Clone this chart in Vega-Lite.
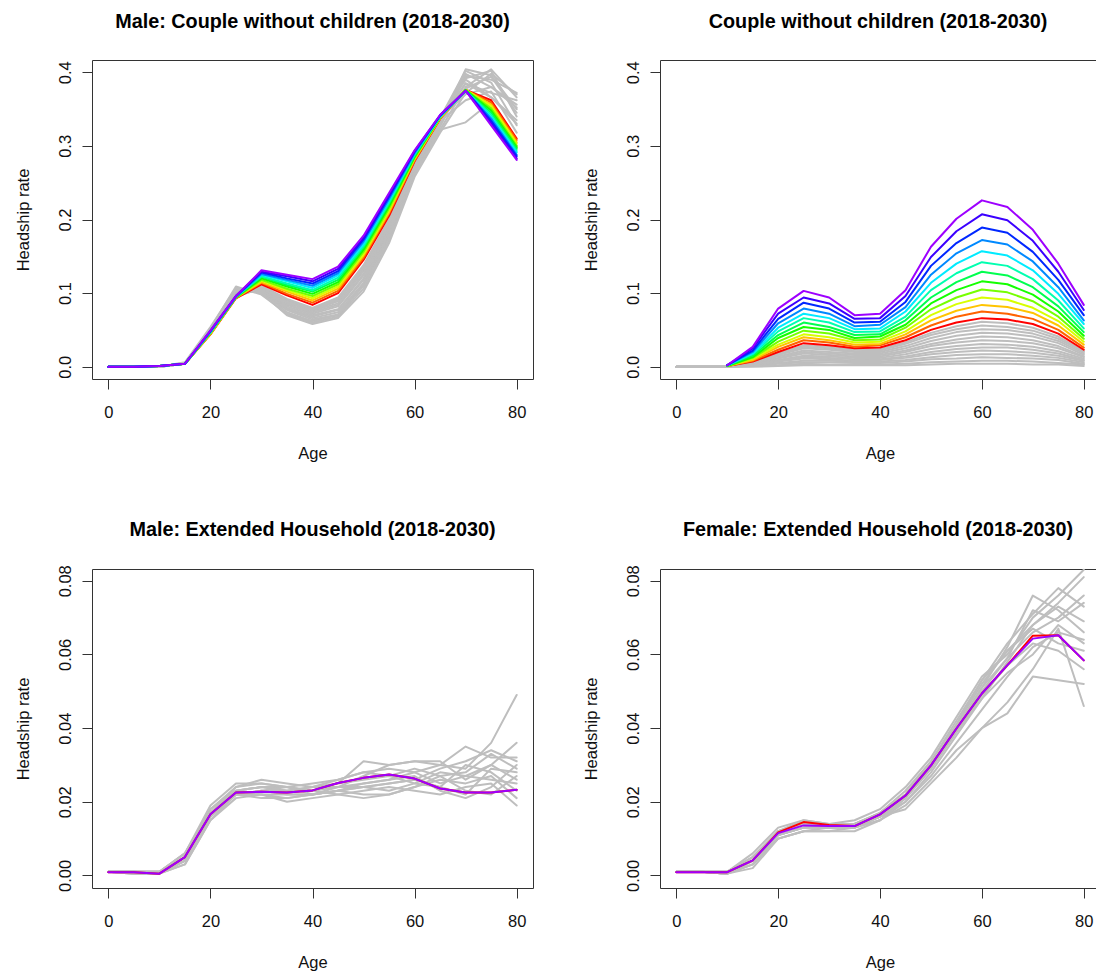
{
  "$schema": "https://vega.github.io/schema/vega-lite/v6.json",
  "background": "white",
  "padding": {"left": 14, "top": 11, "right": 0, "bottom": 0},
  "autosize": {"type": "pad"},
  "config": {
    "font": "Liberation Sans",
    "view": {"stroke": "#333333", "strokeWidth": 1},
    "axis": {
      "domain": false, "grid": false,
      "tickColor": "#333333", "tickSize": 10, "tickWidth": 1,
      "labelFont": "Liberation Sans", "labelFontSize": 16.5, "labelColor": "#111111",
      "labelFlush": false, "labelOverlap": false,
      "titleFont": "Liberation Sans", "titleFontSize": 16.5, "titleFontWeight": "normal", "titleColor": "#111111"
    },
    "axisX": {"labelBaseline": "alphabetic", "labelAlign": "center", "labelPadding": 28, "titleBaseline": "alphabetic", "titleAlign": "center", "titleAngle": 0},
    "axisY": {"labelAngle": 270, "labelAlign": "center", "labelBaseline": "alphabetic", "labelPadding": 12, "titleAngle": 270, "titleAlign": "center", "titleBaseline": "alphabetic"},
    "title": {"font": "Liberation Sans", "fontSize": 19.8, "fontWeight": "bold", "color": "#000000", "anchor": "middle", "frame": "group", "baseline": "alphabetic"},
    "line": {"strokeWidth": 2, "strokeCap": "round", "strokeJoin": "round"}
  },
  "columns": 2,
  "spacing": {"row": 190, "column": 127},
  "bounds": "flush",
  "resolve": {"scale": {"x": "independent", "y": "independent", "color": "independent"}},
  "concat": [
    {
      "width": 441, "height": 319,
      "title": {"text": "Male: Couple without children (2018-2030)", "offset": 28},
      "encoding": {
        "x": {"field": "age", "type": "quantitative", "scale": {"domain": [-3.2, 83.2], "nice": false, "zero": false},
              "axis": {"values": [0, 20, 40, 60, 80], "format": "d", "title": "Age", "titleX": 220.5, "titleY": 79}},
        "y": {"field": "rate", "type": "quantitative", "scale": {"domain": [-0.0167, 0.4167], "nice": false, "zero": false},
              "axis": {"values": [0, 0.1, 0.2, 0.3, 0.4], "format": ".1f", "title": "Headship rate", "titleX": -64, "titleY": 159.5}}
      },
      "layer": [
        {"data": {"name": "male_cwc_hist"}, "mark": {"type": "line", "color": "#BEBEBE"}, "encoding": {"detail": {"field": "s", "type": "nominal"}}},
        {"data": {"name": "male_cwc_fc"}, "mark": {"type": "line"},
         "encoding": {"color": {"field": "s", "type": "ordinal", "legend": null,
           "scale": {"domain": [2018, 2019, 2020, 2021, 2022, 2023, 2024, 2025, 2026, 2027, 2028, 2029, 2030],
                     "range": ["#FF0000", "#FF6200", "#FFC400", "#D8FF00", "#76FF00", "#14FF00", "#00FF4F", "#00FFB0", "#00EBFF", "#0089FF", "#0027FF", "#3B00FF", "#9D00FF"]}}}}
      ]
    },
    {
      "width": 436, "height": 319,
      "title": {"text": "Couple without children (2018-2030)", "offset": 28},
      "encoding": {
        "x": {"field": "age", "type": "quantitative", "scale": {"domain": [-3.2, 82.4], "nice": false, "zero": false},
              "axis": {"values": [0, 20, 40, 60, 80], "format": "d", "title": "Age", "titleX": 220, "titleY": 79}},
        "y": {"field": "rate", "type": "quantitative", "scale": {"domain": [-0.0167, 0.4167], "nice": false, "zero": false},
              "axis": {"values": [0, 0.1, 0.2, 0.3, 0.4], "format": ".1f", "title": "Headship rate", "titleX": -64, "titleY": 159.5}}
      },
      "layer": [
        {"data": {"name": "cwc_hist"}, "mark": {"type": "line", "color": "#BEBEBE"}, "encoding": {"detail": {"field": "s", "type": "nominal"}}},
        {"data": {"name": "cwc_fc"}, "mark": {"type": "line"},
         "encoding": {"color": {"field": "s", "type": "ordinal", "legend": null,
           "scale": {"domain": [2018, 2019, 2020, 2021, 2022, 2023, 2024, 2025, 2026, 2027, 2028, 2029, 2030],
                     "range": ["#FF0000", "#FF6200", "#FFC400", "#D8FF00", "#76FF00", "#14FF00", "#00FF4F", "#00FFB0", "#00EBFF", "#0089FF", "#0027FF", "#3B00FF", "#9D00FF"]}}}}
      ]
    },
    {
      "width": 441, "height": 319,
      "title": {"text": "Male: Extended Household (2018-2030)", "offset": 25},
      "encoding": {
        "x": {"field": "age", "type": "quantitative", "scale": {"domain": [-3.2, 83.2], "nice": false, "zero": false},
              "axis": {"values": [0, 20, 40, 60, 80], "format": "d", "title": "Age", "titleX": 220.5, "titleY": 79}},
        "y": {"field": "rate", "type": "quantitative", "scale": {"domain": [-0.0034, 0.0832], "nice": false, "zero": false},
              "axis": {"values": [0, 0.02, 0.04, 0.06, 0.08], "format": ".2f", "title": "Headship rate", "titleX": -64, "titleY": 159.5}}
      },
      "layer": [
        {"data": {"name": "male_ext_hist"}, "mark": {"type": "line", "color": "#BEBEBE"}, "encoding": {"detail": {"field": "s", "type": "nominal"}}},
        {"data": {"name": "male_ext_fc"}, "mark": {"type": "line"},
         "encoding": {"color": {"field": "s", "type": "ordinal", "legend": null,
           "scale": {"domain": [2018, 2030], "range": ["#FF0000", "#9D00FF"]}}}}
      ]
    },
    {
      "width": 436, "height": 319,
      "title": {"text": "Female: Extended Household (2018-2030)", "offset": 25},
      "encoding": {
        "x": {"field": "age", "type": "quantitative", "scale": {"domain": [-3.2, 82.4], "nice": false, "zero": false},
              "axis": {"values": [0, 20, 40, 60, 80], "format": "d", "title": "Age", "titleX": 220, "titleY": 79}},
        "y": {"field": "rate", "type": "quantitative", "scale": {"domain": [-0.0034, 0.0832], "nice": false, "zero": false},
              "axis": {"values": [0, 0.02, 0.04, 0.06, 0.08], "format": ".2f", "title": "Headship rate", "titleX": -64, "titleY": 159.5}}
      },
      "layer": [
        {"data": {"name": "female_ext_hist"}, "mark": {"type": "line", "color": "#BEBEBE"}, "encoding": {"detail": {"field": "s", "type": "nominal"}}},
        {"data": {"name": "female_ext_fc"}, "mark": {"type": "line"},
         "encoding": {"color": {"field": "s", "type": "ordinal", "legend": null,
           "scale": {"domain": [2018, 2030], "range": ["#FF0000", "#9D00FF"]}}}}
      ]
    }
  ],
  "datasets": {
    "male_cwc_hist": [
      {"s":1,"age":0,"rate":0},{"s":1,"age":5,"rate":0},{"s":1,"age":10,"rate":0},{"s":1,"age":15,"rate":0.006},{"s":1,"age":20,"rate":0.054},{"s":1,"age":25,"rate":0.107},{"s":1,"age":30,"rate":0.100},{"s":1,"age":35,"rate":0.070},{"s":1,"age":40,"rate":0.058},{"s":1,"age":45,"rate":0.066},{"s":1,"age":50,"rate":0.102},{"s":1,"age":55,"rate":0.168},{"s":1,"age":60,"rate":0.258},{"s":1,"age":65,"rate":0.318},{"s":1,"age":70,"rate":0.372},{"s":1,"age":75,"rate":0.398},{"s":1,"age":80,"rate":0.370},
      {"s":2,"age":0,"rate":0},{"s":2,"age":5,"rate":0},{"s":2,"age":10,"rate":0},{"s":2,"age":15,"rate":0.005},{"s":2,"age":20,"rate":0.052},{"s":2,"age":25,"rate":0.109},{"s":2,"age":30,"rate":0.098},{"s":2,"age":35,"rate":0.072},{"s":2,"age":40,"rate":0.060},{"s":2,"age":45,"rate":0.068},{"s":2,"age":50,"rate":0.106},{"s":2,"age":55,"rate":0.172},{"s":2,"age":60,"rate":0.262},{"s":2,"age":65,"rate":0.322},{"s":2,"age":70,"rate":0.380},{"s":2,"age":75,"rate":0.404},{"s":2,"age":80,"rate":0.366},
      {"s":3,"age":0,"rate":0},{"s":3,"age":5,"rate":0},{"s":3,"age":10,"rate":0},{"s":3,"age":15,"rate":0.005},{"s":3,"age":20,"rate":0.050},{"s":3,"age":25,"rate":0.106},{"s":3,"age":30,"rate":0.102},{"s":3,"age":35,"rate":0.074},{"s":3,"age":40,"rate":0.062},{"s":3,"age":45,"rate":0.070},{"s":3,"age":50,"rate":0.110},{"s":3,"age":55,"rate":0.176},{"s":3,"age":60,"rate":0.265},{"s":3,"age":65,"rate":0.326},{"s":3,"age":70,"rate":0.395},{"s":3,"age":75,"rate":0.390},{"s":3,"age":80,"rate":0.372},
      {"s":4,"age":0,"rate":0},{"s":4,"age":5,"rate":0},{"s":4,"age":10,"rate":0},{"s":4,"age":15,"rate":0.005},{"s":4,"age":20,"rate":0.051},{"s":4,"age":25,"rate":0.104},{"s":4,"age":30,"rate":0.101},{"s":4,"age":35,"rate":0.077},{"s":4,"age":40,"rate":0.064},{"s":4,"age":45,"rate":0.071},{"s":4,"age":50,"rate":0.112},{"s":4,"age":55,"rate":0.178},{"s":4,"age":60,"rate":0.268},{"s":4,"age":65,"rate":0.330},{"s":4,"age":70,"rate":0.404},{"s":4,"age":75,"rate":0.396},{"s":4,"age":80,"rate":0.350},
      {"s":5,"age":0,"rate":0},{"s":5,"age":5,"rate":0},{"s":5,"age":10,"rate":0},{"s":5,"age":15,"rate":0.004},{"s":5,"age":20,"rate":0.049},{"s":5,"age":25,"rate":0.103},{"s":5,"age":30,"rate":0.103},{"s":5,"age":35,"rate":0.079},{"s":5,"age":40,"rate":0.066},{"s":5,"age":45,"rate":0.074},{"s":5,"age":50,"rate":0.114},{"s":5,"age":55,"rate":0.182},{"s":5,"age":60,"rate":0.266},{"s":5,"age":65,"rate":0.334},{"s":5,"age":70,"rate":0.398},{"s":5,"age":75,"rate":0.380},{"s":5,"age":80,"rate":0.356},
      {"s":6,"age":0,"rate":0},{"s":6,"age":5,"rate":0},{"s":6,"age":10,"rate":0},{"s":6,"age":15,"rate":0.005},{"s":6,"age":20,"rate":0.050},{"s":6,"age":25,"rate":0.102},{"s":6,"age":30,"rate":0.104},{"s":6,"age":35,"rate":0.080},{"s":6,"age":40,"rate":0.068},{"s":6,"age":45,"rate":0.077},{"s":6,"age":50,"rate":0.118},{"s":6,"age":55,"rate":0.184},{"s":6,"age":60,"rate":0.270},{"s":6,"age":65,"rate":0.336},{"s":6,"age":70,"rate":0.392},{"s":6,"age":75,"rate":0.402},{"s":6,"age":80,"rate":0.340},
      {"s":7,"age":0,"rate":0},{"s":7,"age":5,"rate":0},{"s":7,"age":10,"rate":0},{"s":7,"age":15,"rate":0.004},{"s":7,"age":20,"rate":0.048},{"s":7,"age":25,"rate":0.100},{"s":7,"age":30,"rate":0.105},{"s":7,"age":35,"rate":0.082},{"s":7,"age":40,"rate":0.070},{"s":7,"age":45,"rate":0.078},{"s":7,"age":50,"rate":0.120},{"s":7,"age":55,"rate":0.186},{"s":7,"age":60,"rate":0.272},{"s":7,"age":65,"rate":0.332},{"s":7,"age":70,"rate":0.385},{"s":7,"age":75,"rate":0.372},{"s":7,"age":80,"rate":0.362},
      {"s":8,"age":0,"rate":0},{"s":8,"age":5,"rate":0},{"s":8,"age":10,"rate":0},{"s":8,"age":15,"rate":0.004},{"s":8,"age":20,"rate":0.047},{"s":8,"age":25,"rate":0.099},{"s":8,"age":30,"rate":0.106},{"s":8,"age":35,"rate":0.084},{"s":8,"age":40,"rate":0.072},{"s":8,"age":45,"rate":0.082},{"s":8,"age":50,"rate":0.124},{"s":8,"age":55,"rate":0.188},{"s":8,"age":60,"rate":0.274},{"s":8,"age":65,"rate":0.338},{"s":8,"age":70,"rate":0.402},{"s":8,"age":75,"rate":0.386},{"s":8,"age":80,"rate":0.328},
      {"s":9,"age":0,"rate":0},{"s":9,"age":5,"rate":0},{"s":9,"age":10,"rate":0},{"s":9,"age":15,"rate":0.004},{"s":9,"age":20,"rate":0.046},{"s":9,"age":25,"rate":0.098},{"s":9,"age":30,"rate":0.104},{"s":9,"age":35,"rate":0.085},{"s":9,"age":40,"rate":0.074},{"s":9,"age":45,"rate":0.084},{"s":9,"age":50,"rate":0.126},{"s":9,"age":55,"rate":0.190},{"s":9,"age":60,"rate":0.276},{"s":9,"age":65,"rate":0.336},{"s":9,"age":70,"rate":0.378},{"s":9,"age":75,"rate":0.394},{"s":9,"age":80,"rate":0.345},
      {"s":10,"age":0,"rate":0},{"s":10,"age":5,"rate":0},{"s":10,"age":10,"rate":0},{"s":10,"age":15,"rate":0.004},{"s":10,"age":20,"rate":0.047},{"s":10,"age":25,"rate":0.097},{"s":10,"age":30,"rate":0.107},{"s":10,"age":35,"rate":0.087},{"s":10,"age":40,"rate":0.076},{"s":10,"age":45,"rate":0.086},{"s":10,"age":50,"rate":0.130},{"s":10,"age":55,"rate":0.192},{"s":10,"age":60,"rate":0.278},{"s":10,"age":65,"rate":0.340},{"s":10,"age":70,"rate":0.390},{"s":10,"age":75,"rate":0.366},{"s":10,"age":80,"rate":0.335},
      {"s":11,"age":0,"rate":0},{"s":11,"age":5,"rate":0},{"s":11,"age":10,"rate":0},{"s":11,"age":15,"rate":0.004},{"s":11,"age":20,"rate":0.046},{"s":11,"age":25,"rate":0.096},{"s":11,"age":30,"rate":0.108},{"s":11,"age":35,"rate":0.088},{"s":11,"age":40,"rate":0.077},{"s":11,"age":45,"rate":0.089},{"s":11,"age":50,"rate":0.132},{"s":11,"age":55,"rate":0.194},{"s":11,"age":60,"rate":0.280},{"s":11,"age":65,"rate":0.338},{"s":11,"age":70,"rate":0.370},{"s":11,"age":75,"rate":0.380},{"s":11,"age":80,"rate":0.352},
      {"s":12,"age":0,"rate":0},{"s":12,"age":5,"rate":0},{"s":12,"age":10,"rate":0},{"s":12,"age":15,"rate":0.004},{"s":12,"age":20,"rate":0.045},{"s":12,"age":25,"rate":0.095},{"s":12,"age":30,"rate":0.107},{"s":12,"age":35,"rate":0.090},{"s":12,"age":40,"rate":0.078},{"s":12,"age":45,"rate":0.090},{"s":12,"age":50,"rate":0.134},{"s":12,"age":55,"rate":0.196},{"s":12,"age":60,"rate":0.276},{"s":12,"age":65,"rate":0.334},{"s":12,"age":70,"rate":0.362},{"s":12,"age":75,"rate":0.374},{"s":12,"age":80,"rate":0.318},
      {"s":13,"age":0,"rate":0},{"s":13,"age":5,"rate":0},{"s":13,"age":10,"rate":0},{"s":13,"age":15,"rate":0.004},{"s":13,"age":20,"rate":0.045},{"s":13,"age":25,"rate":0.095},{"s":13,"age":30,"rate":0.109},{"s":13,"age":35,"rate":0.091},{"s":13,"age":40,"rate":0.079},{"s":13,"age":45,"rate":0.092},{"s":13,"age":50,"rate":0.136},{"s":13,"age":55,"rate":0.198},{"s":13,"age":60,"rate":0.262},{"s":13,"age":65,"rate":0.322},{"s":13,"age":70,"rate":0.332},{"s":13,"age":75,"rate":0.360},{"s":13,"age":80,"rate":0.300},
      {"s":14,"age":0,"rate":0},{"s":14,"age":5,"rate":0},{"s":14,"age":10,"rate":0},{"s":14,"age":15,"rate":0.004},{"s":14,"age":20,"rate":0.045},{"s":14,"age":25,"rate":0.094},{"s":14,"age":30,"rate":0.110},{"s":14,"age":35,"rate":0.092},{"s":14,"age":40,"rate":0.080},{"s":14,"age":45,"rate":0.094},{"s":14,"age":50,"rate":0.138},{"s":14,"age":55,"rate":0.200},{"s":14,"age":60,"rate":0.280},{"s":14,"age":65,"rate":0.336},{"s":14,"age":70,"rate":0.385},{"s":14,"age":75,"rate":0.366},{"s":14,"age":80,"rate":0.330}
    ],
    "male_cwc_fc": [
      {"s":2018,"age":0,"rate":0},{"s":2018,"age":5,"rate":0},{"s":2018,"age":10,"rate":0.001},{"s":2018,"age":15,"rate":0.004},{"s":2018,"age":20,"rate":0.044},{"s":2018,"age":25,"rate":0.093},{"s":2018,"age":30,"rate":0.112},{"s":2018,"age":35,"rate":0.097},{"s":2018,"age":40,"rate":0.084},{"s":2018,"age":45,"rate":0.100},{"s":2018,"age":50,"rate":0.145},{"s":2018,"age":55,"rate":0.205},{"s":2018,"age":60,"rate":0.279},{"s":2018,"age":65,"rate":0.337},{"s":2018,"age":70,"rate":0.376},{"s":2018,"age":75,"rate":0.362},{"s":2018,"age":80,"rate":0.310},
      {"s":2019,"age":0,"rate":0},{"s":2019,"age":5,"rate":0},{"s":2019,"age":10,"rate":0.001},{"s":2019,"age":15,"rate":0.004},{"s":2019,"age":20,"rate":0.044},{"s":2019,"age":25,"rate":0.093},{"s":2019,"age":30,"rate":0.114},{"s":2019,"age":35,"rate":0.099},{"s":2019,"age":40,"rate":0.087},{"s":2019,"age":45,"rate":0.103},{"s":2019,"age":50,"rate":0.148},{"s":2019,"age":55,"rate":0.208},{"s":2019,"age":60,"rate":0.280},{"s":2019,"age":65,"rate":0.337},{"s":2019,"age":70,"rate":0.376},{"s":2019,"age":75,"rate":0.359},{"s":2019,"age":80,"rate":0.308},
      {"s":2020,"age":0,"rate":0},{"s":2020,"age":5,"rate":0},{"s":2020,"age":10,"rate":0.001},{"s":2020,"age":15,"rate":0.004},{"s":2020,"age":20,"rate":0.045},{"s":2020,"age":25,"rate":0.094},{"s":2020,"age":30,"rate":0.115},{"s":2020,"age":35,"rate":0.102},{"s":2020,"age":40,"rate":0.090},{"s":2020,"age":45,"rate":0.106},{"s":2020,"age":50,"rate":0.151},{"s":2020,"age":55,"rate":0.210},{"s":2020,"age":60,"rate":0.282},{"s":2020,"age":65,"rate":0.338},{"s":2020,"age":70,"rate":0.376},{"s":2020,"age":75,"rate":0.356},{"s":2020,"age":80,"rate":0.305},
      {"s":2021,"age":0,"rate":0},{"s":2021,"age":5,"rate":0},{"s":2021,"age":10,"rate":0.001},{"s":2021,"age":15,"rate":0.004},{"s":2021,"age":20,"rate":0.045},{"s":2021,"age":25,"rate":0.094},{"s":2021,"age":30,"rate":0.117},{"s":2021,"age":35,"rate":0.104},{"s":2021,"age":40,"rate":0.093},{"s":2021,"age":45,"rate":0.109},{"s":2021,"age":50,"rate":0.153},{"s":2021,"age":55,"rate":0.213},{"s":2021,"age":60,"rate":0.283},{"s":2021,"age":65,"rate":0.338},{"s":2021,"age":70,"rate":0.376},{"s":2021,"age":75,"rate":0.354},{"s":2021,"age":80,"rate":0.303},
      {"s":2022,"age":0,"rate":0},{"s":2022,"age":5,"rate":0},{"s":2022,"age":10,"rate":0.001},{"s":2022,"age":15,"rate":0.004},{"s":2022,"age":20,"rate":0.046},{"s":2022,"age":25,"rate":0.094},{"s":2022,"age":30,"rate":0.118},{"s":2022,"age":35,"rate":0.106},{"s":2022,"age":40,"rate":0.096},{"s":2022,"age":45,"rate":0.112},{"s":2022,"age":50,"rate":0.156},{"s":2022,"age":55,"rate":0.215},{"s":2022,"age":60,"rate":0.284},{"s":2022,"age":65,"rate":0.339},{"s":2022,"age":70,"rate":0.376},{"s":2022,"age":75,"rate":0.351},{"s":2022,"age":80,"rate":0.300},
      {"s":2023,"age":0,"rate":0},{"s":2023,"age":5,"rate":0},{"s":2023,"age":10,"rate":0.001},{"s":2023,"age":15,"rate":0.004},{"s":2023,"age":20,"rate":0.046},{"s":2023,"age":25,"rate":0.094},{"s":2023,"age":30,"rate":0.120},{"s":2023,"age":35,"rate":0.109},{"s":2023,"age":40,"rate":0.099},{"s":2023,"age":45,"rate":0.115},{"s":2023,"age":50,"rate":0.159},{"s":2023,"age":55,"rate":0.218},{"s":2023,"age":60,"rate":0.285},{"s":2023,"age":65,"rate":0.339},{"s":2023,"age":70,"rate":0.376},{"s":2023,"age":75,"rate":0.348},{"s":2023,"age":80,"rate":0.298},
      {"s":2024,"age":0,"rate":0},{"s":2024,"age":5,"rate":0},{"s":2024,"age":10,"rate":0.001},{"s":2024,"age":15,"rate":0.004},{"s":2024,"age":20,"rate":0.047},{"s":2024,"age":25,"rate":0.095},{"s":2024,"age":30,"rate":0.122},{"s":2024,"age":35,"rate":0.111},{"s":2024,"age":40,"rate":0.102},{"s":2024,"age":45,"rate":0.118},{"s":2024,"age":50,"rate":0.162},{"s":2024,"age":55,"rate":0.221},{"s":2024,"age":60,"rate":0.287},{"s":2024,"age":65,"rate":0.340},{"s":2024,"age":70,"rate":0.375},{"s":2024,"age":75,"rate":0.345},{"s":2024,"age":80,"rate":0.296},
      {"s":2025,"age":0,"rate":0},{"s":2025,"age":5,"rate":0},{"s":2025,"age":10,"rate":0.001},{"s":2025,"age":15,"rate":0.004},{"s":2025,"age":20,"rate":0.047},{"s":2025,"age":25,"rate":0.095},{"s":2025,"age":30,"rate":0.123},{"s":2025,"age":35,"rate":0.113},{"s":2025,"age":40,"rate":0.104},{"s":2025,"age":45,"rate":0.121},{"s":2025,"age":50,"rate":0.164},{"s":2025,"age":55,"rate":0.223},{"s":2025,"age":60,"rate":0.288},{"s":2025,"age":65,"rate":0.340},{"s":2025,"age":70,"rate":0.375},{"s":2025,"age":75,"rate":0.342},{"s":2025,"age":80,"rate":0.293},
      {"s":2026,"age":0,"rate":0},{"s":2026,"age":5,"rate":0},{"s":2026,"age":10,"rate":0.001},{"s":2026,"age":15,"rate":0.004},{"s":2026,"age":20,"rate":0.047},{"s":2026,"age":25,"rate":0.095},{"s":2026,"age":30,"rate":0.125},{"s":2026,"age":35,"rate":0.116},{"s":2026,"age":40,"rate":0.107},{"s":2026,"age":45,"rate":0.124},{"s":2026,"age":50,"rate":0.167},{"s":2026,"age":55,"rate":0.226},{"s":2026,"age":60,"rate":0.289},{"s":2026,"age":65,"rate":0.340},{"s":2026,"age":70,"rate":0.375},{"s":2026,"age":75,"rate":0.339},{"s":2026,"age":80,"rate":0.291},
      {"s":2027,"age":0,"rate":0},{"s":2027,"age":5,"rate":0},{"s":2027,"age":10,"rate":0.001},{"s":2027,"age":15,"rate":0.004},{"s":2027,"age":20,"rate":0.048},{"s":2027,"age":25,"rate":0.095},{"s":2027,"age":30,"rate":0.126},{"s":2027,"age":35,"rate":0.118},{"s":2027,"age":40,"rate":0.110},{"s":2027,"age":45,"rate":0.127},{"s":2027,"age":50,"rate":0.170},{"s":2027,"age":55,"rate":0.228},{"s":2027,"age":60,"rate":0.290},{"s":2027,"age":65,"rate":0.341},{"s":2027,"age":70,"rate":0.375},{"s":2027,"age":75,"rate":0.337},{"s":2027,"age":80,"rate":0.288},
      {"s":2028,"age":0,"rate":0},{"s":2028,"age":5,"rate":0},{"s":2028,"age":10,"rate":0.001},{"s":2028,"age":15,"rate":0.004},{"s":2028,"age":20,"rate":0.048},{"s":2028,"age":25,"rate":0.096},{"s":2028,"age":30,"rate":0.128},{"s":2028,"age":35,"rate":0.120},{"s":2028,"age":40,"rate":0.113},{"s":2028,"age":45,"rate":0.130},{"s":2028,"age":50,"rate":0.173},{"s":2028,"age":55,"rate":0.231},{"s":2028,"age":60,"rate":0.292},{"s":2028,"age":65,"rate":0.341},{"s":2028,"age":70,"rate":0.375},{"s":2028,"age":75,"rate":0.334},{"s":2028,"age":80,"rate":0.286},
      {"s":2029,"age":0,"rate":0},{"s":2029,"age":5,"rate":0},{"s":2029,"age":10,"rate":0.001},{"s":2029,"age":15,"rate":0.004},{"s":2029,"age":20,"rate":0.049},{"s":2029,"age":25,"rate":0.096},{"s":2029,"age":30,"rate":0.129},{"s":2029,"age":35,"rate":0.123},{"s":2029,"age":40,"rate":0.116},{"s":2029,"age":45,"rate":0.133},{"s":2029,"age":50,"rate":0.175},{"s":2029,"age":55,"rate":0.233},{"s":2029,"age":60,"rate":0.293},{"s":2029,"age":65,"rate":0.342},{"s":2029,"age":70,"rate":0.375},{"s":2029,"age":75,"rate":0.331},{"s":2029,"age":80,"rate":0.283},
      {"s":2030,"age":0,"rate":0},{"s":2030,"age":5,"rate":0},{"s":2030,"age":10,"rate":0.001},{"s":2030,"age":15,"rate":0.004},{"s":2030,"age":20,"rate":0.049},{"s":2030,"age":25,"rate":0.096},{"s":2030,"age":30,"rate":0.131},{"s":2030,"age":35,"rate":0.125},{"s":2030,"age":40,"rate":0.119},{"s":2030,"age":45,"rate":0.136},{"s":2030,"age":50,"rate":0.178},{"s":2030,"age":55,"rate":0.236},{"s":2030,"age":60,"rate":0.294},{"s":2030,"age":65,"rate":0.342},{"s":2030,"age":70,"rate":0.375},{"s":2030,"age":75,"rate":0.328},{"s":2030,"age":80,"rate":0.281}
    ],
    "cwc_hist": [
      {"s":1,"age":0,"rate":0},{"s":1,"age":5,"rate":0},{"s":1,"age":10,"rate":0.001},{"s":1,"age":15,"rate":0.006},{"s":1,"age":20,"rate":0.018},{"s":1,"age":25,"rate":0.029},{"s":1,"age":30,"rate":0.027},{"s":1,"age":35,"rate":0.023},{"s":1,"age":40,"rate":0.024},{"s":1,"age":45,"rate":0.033},{"s":1,"age":50,"rate":0.046},{"s":1,"age":55,"rate":0.055},{"s":1,"age":60,"rate":0.061},{"s":1,"age":65,"rate":0.059},{"s":1,"age":70,"rate":0.053},{"s":1,"age":75,"rate":0.041},{"s":1,"age":80,"rate":0.021},
      {"s":2,"age":0,"rate":0},{"s":2,"age":5,"rate":0},{"s":2,"age":10,"rate":0.001},{"s":2,"age":15,"rate":0.006},{"s":2,"age":20,"rate":0.017},{"s":2,"age":25,"rate":0.027},{"s":2,"age":30,"rate":0.025},{"s":2,"age":35,"rate":0.021},{"s":2,"age":40,"rate":0.022},{"s":2,"age":45,"rate":0.031},{"s":2,"age":50,"rate":0.043},{"s":2,"age":55,"rate":0.051},{"s":2,"age":60,"rate":0.056},{"s":2,"age":65,"rate":0.054},{"s":2,"age":70,"rate":0.049},{"s":2,"age":75,"rate":0.038},{"s":2,"age":80,"rate":0.020},
      {"s":3,"age":0,"rate":0},{"s":3,"age":5,"rate":0},{"s":3,"age":10,"rate":0},{"s":3,"age":15,"rate":0.005},{"s":3,"age":20,"rate":0.016},{"s":3,"age":25,"rate":0.025},{"s":3,"age":30,"rate":0.023},{"s":3,"age":35,"rate":0.020},{"s":3,"age":40,"rate":0.020},{"s":3,"age":45,"rate":0.028},{"s":3,"age":50,"rate":0.039},{"s":3,"age":55,"rate":0.047},{"s":3,"age":60,"rate":0.051},{"s":3,"age":65,"rate":0.050},{"s":3,"age":70,"rate":0.045},{"s":3,"age":75,"rate":0.035},{"s":3,"age":80,"rate":0.018},
      {"s":4,"age":0,"rate":0},{"s":4,"age":5,"rate":0},{"s":4,"age":10,"rate":0},{"s":4,"age":15,"rate":0.005},{"s":4,"age":20,"rate":0.014},{"s":4,"age":25,"rate":0.022},{"s":4,"age":30,"rate":0.020},{"s":4,"age":35,"rate":0.018},{"s":4,"age":40,"rate":0.018},{"s":4,"age":45,"rate":0.025},{"s":4,"age":50,"rate":0.035},{"s":4,"age":55,"rate":0.042},{"s":4,"age":60,"rate":0.046},{"s":4,"age":65,"rate":0.045},{"s":4,"age":70,"rate":0.041},{"s":4,"age":75,"rate":0.032},{"s":4,"age":80,"rate":0.016},
      {"s":5,"age":0,"rate":0},{"s":5,"age":5,"rate":0},{"s":5,"age":10,"rate":0},{"s":5,"age":15,"rate":0.004},{"s":5,"age":20,"rate":0.012},{"s":5,"age":25,"rate":0.020},{"s":5,"age":30,"rate":0.018},{"s":5,"age":35,"rate":0.016},{"s":5,"age":40,"rate":0.016},{"s":5,"age":45,"rate":0.022},{"s":5,"age":50,"rate":0.031},{"s":5,"age":55,"rate":0.037},{"s":5,"age":60,"rate":0.041},{"s":5,"age":65,"rate":0.040},{"s":5,"age":70,"rate":0.036},{"s":5,"age":75,"rate":0.028},{"s":5,"age":80,"rate":0.014},
      {"s":6,"age":0,"rate":0},{"s":6,"age":5,"rate":0},{"s":6,"age":10,"rate":0},{"s":6,"age":15,"rate":0.004},{"s":6,"age":20,"rate":0.011},{"s":6,"age":25,"rate":0.018},{"s":6,"age":30,"rate":0.016},{"s":6,"age":35,"rate":0.014},{"s":6,"age":40,"rate":0.014},{"s":6,"age":45,"rate":0.020},{"s":6,"age":50,"rate":0.028},{"s":6,"age":55,"rate":0.033},{"s":6,"age":60,"rate":0.036},{"s":6,"age":65,"rate":0.035},{"s":6,"age":70,"rate":0.032},{"s":6,"age":75,"rate":0.025},{"s":6,"age":80,"rate":0.013},
      {"s":7,"age":0,"rate":0},{"s":7,"age":5,"rate":0},{"s":7,"age":10,"rate":0},{"s":7,"age":15,"rate":0.003},{"s":7,"age":20,"rate":0.009},{"s":7,"age":25,"rate":0.015},{"s":7,"age":30,"rate":0.014},{"s":7,"age":35,"rate":0.012},{"s":7,"age":40,"rate":0.012},{"s":7,"age":45,"rate":0.017},{"s":7,"age":50,"rate":0.024},{"s":7,"age":55,"rate":0.028},{"s":7,"age":60,"rate":0.031},{"s":7,"age":65,"rate":0.030},{"s":7,"age":70,"rate":0.027},{"s":7,"age":75,"rate":0.021},{"s":7,"age":80,"rate":0.011},
      {"s":8,"age":0,"rate":0},{"s":8,"age":5,"rate":0},{"s":8,"age":10,"rate":0},{"s":8,"age":15,"rate":0.003},{"s":8,"age":20,"rate":0.008},{"s":8,"age":25,"rate":0.013},{"s":8,"age":30,"rate":0.012},{"s":8,"age":35,"rate":0.010},{"s":8,"age":40,"rate":0.010},{"s":8,"age":45,"rate":0.014},{"s":8,"age":50,"rate":0.020},{"s":8,"age":55,"rate":0.024},{"s":8,"age":60,"rate":0.026},{"s":8,"age":65,"rate":0.026},{"s":8,"age":70,"rate":0.023},{"s":8,"age":75,"rate":0.018},{"s":8,"age":80,"rate":0.009},
      {"s":9,"age":0,"rate":0},{"s":9,"age":5,"rate":0},{"s":9,"age":10,"rate":0},{"s":9,"age":15,"rate":0.002},{"s":9,"age":20,"rate":0.007},{"s":9,"age":25,"rate":0.011},{"s":9,"age":30,"rate":0.010},{"s":9,"age":35,"rate":0.008},{"s":9,"age":40,"rate":0.009},{"s":9,"age":45,"rate":0.012},{"s":9,"age":50,"rate":0.017},{"s":9,"age":55,"rate":0.020},{"s":9,"age":60,"rate":0.022},{"s":9,"age":65,"rate":0.021},{"s":9,"age":70,"rate":0.019},{"s":9,"age":75,"rate":0.015},{"s":9,"age":80,"rate":0.008},
      {"s":10,"age":0,"rate":0},{"s":10,"age":5,"rate":0},{"s":10,"age":10,"rate":0},{"s":10,"age":15,"rate":0.002},{"s":10,"age":20,"rate":0.005},{"s":10,"age":25,"rate":0.008},{"s":10,"age":30,"rate":0.008},{"s":10,"age":35,"rate":0.007},{"s":10,"age":40,"rate":0.007},{"s":10,"age":45,"rate":0.009},{"s":10,"age":50,"rate":0.013},{"s":10,"age":55,"rate":0.016},{"s":10,"age":60,"rate":0.017},{"s":10,"age":65,"rate":0.017},{"s":10,"age":70,"rate":0.015},{"s":10,"age":75,"rate":0.012},{"s":10,"age":80,"rate":0.006},
      {"s":11,"age":0,"rate":0},{"s":11,"age":5,"rate":0},{"s":11,"age":10,"rate":0},{"s":11,"age":15,"rate":0.001},{"s":11,"age":20,"rate":0.004},{"s":11,"age":25,"rate":0.006},{"s":11,"age":30,"rate":0.006},{"s":11,"age":35,"rate":0.005},{"s":11,"age":40,"rate":0.005},{"s":11,"age":45,"rate":0.007},{"s":11,"age":50,"rate":0.010},{"s":11,"age":55,"rate":0.011},{"s":11,"age":60,"rate":0.013},{"s":11,"age":65,"rate":0.012},{"s":11,"age":70,"rate":0.011},{"s":11,"age":75,"rate":0.009},{"s":11,"age":80,"rate":0.004},
      {"s":12,"age":0,"rate":0},{"s":12,"age":5,"rate":0},{"s":12,"age":10,"rate":0},{"s":12,"age":15,"rate":0.001},{"s":12,"age":20,"rate":0.002},{"s":12,"age":25,"rate":0.004},{"s":12,"age":30,"rate":0.003},{"s":12,"age":35,"rate":0.003},{"s":12,"age":40,"rate":0.003},{"s":12,"age":45,"rate":0.004},{"s":12,"age":50,"rate":0.006},{"s":12,"age":55,"rate":0.007},{"s":12,"age":60,"rate":0.008},{"s":12,"age":65,"rate":0.008},{"s":12,"age":70,"rate":0.007},{"s":12,"age":75,"rate":0.005},{"s":12,"age":80,"rate":0.003},
      {"s":13,"age":0,"rate":0},{"s":13,"age":5,"rate":0},{"s":13,"age":10,"rate":0},{"s":13,"age":15,"rate":0},{"s":13,"age":20,"rate":0.001},{"s":13,"age":25,"rate":0.002},{"s":13,"age":30,"rate":0.002},{"s":13,"age":35,"rate":0.002},{"s":13,"age":40,"rate":0.002},{"s":13,"age":45,"rate":0.002},{"s":13,"age":50,"rate":0.003},{"s":13,"age":55,"rate":0.004},{"s":13,"age":60,"rate":0.004},{"s":13,"age":65,"rate":0.004},{"s":13,"age":70,"rate":0.003},{"s":13,"age":75,"rate":0.003},{"s":13,"age":80,"rate":0.001}
    ],
    "cwc_fc": [
      {"s":2018,"age":10,"rate":0.001},{"s":2018,"age":15,"rate":0.007},{"s":2018,"age":20,"rate":0.020},{"s":2018,"age":25,"rate":0.032},{"s":2018,"age":30,"rate":0.029},{"s":2018,"age":35,"rate":0.025},{"s":2018,"age":40,"rate":0.026},{"s":2018,"age":45,"rate":0.036},{"s":2018,"age":50,"rate":0.050},{"s":2018,"age":55,"rate":0.060},{"s":2018,"age":60,"rate":0.066},{"s":2018,"age":65,"rate":0.064},{"s":2018,"age":70,"rate":0.058},{"s":2018,"age":75,"rate":0.045},{"s":2018,"age":80,"rate":0.023},
      {"s":2019,"age":10,"rate":0.001},{"s":2019,"age":15,"rate":0.008},{"s":2019,"age":20,"rate":0.023},{"s":2019,"age":25,"rate":0.036},{"s":2019,"age":30,"rate":0.033},{"s":2019,"age":35,"rate":0.027},{"s":2019,"age":40,"rate":0.029},{"s":2019,"age":45,"rate":0.040},{"s":2019,"age":50,"rate":0.056},{"s":2019,"age":55,"rate":0.068},{"s":2019,"age":60,"rate":0.075},{"s":2019,"age":65,"rate":0.072},{"s":2019,"age":70,"rate":0.065},{"s":2019,"age":75,"rate":0.050},{"s":2019,"age":80,"rate":0.026},
      {"s":2020,"age":10,"rate":0.001},{"s":2020,"age":15,"rate":0.009},{"s":2020,"age":20,"rate":0.027},{"s":2020,"age":25,"rate":0.040},{"s":2020,"age":30,"rate":0.036},{"s":2020,"age":35,"rate":0.030},{"s":2020,"age":40,"rate":0.031},{"s":2020,"age":45,"rate":0.044},{"s":2020,"age":50,"rate":0.063},{"s":2020,"age":55,"rate":0.076},{"s":2020,"age":60,"rate":0.084},{"s":2020,"age":65,"rate":0.081},{"s":2020,"age":70,"rate":0.073},{"s":2020,"age":75,"rate":0.056},{"s":2020,"age":80,"rate":0.030},
      {"s":2021,"age":10,"rate":0.001},{"s":2021,"age":15,"rate":0.011},{"s":2021,"age":20,"rate":0.030},{"s":2021,"age":25,"rate":0.044},{"s":2021,"age":30,"rate":0.040},{"s":2021,"age":35,"rate":0.033},{"s":2021,"age":40,"rate":0.034},{"s":2021,"age":45,"rate":0.048},{"s":2021,"age":50,"rate":0.070},{"s":2021,"age":55,"rate":0.085},{"s":2021,"age":60,"rate":0.094},{"s":2021,"age":65,"rate":0.091},{"s":2021,"age":70,"rate":0.080},{"s":2021,"age":75,"rate":0.062},{"s":2021,"age":80,"rate":0.034},
      {"s":2022,"age":10,"rate":0.001},{"s":2022,"age":15,"rate":0.012},{"s":2022,"age":20,"rate":0.034},{"s":2022,"age":25,"rate":0.049},{"s":2022,"age":30,"rate":0.045},{"s":2022,"age":35,"rate":0.036},{"s":2022,"age":40,"rate":0.037},{"s":2022,"age":45,"rate":0.053},{"s":2022,"age":50,"rate":0.078},{"s":2022,"age":55,"rate":0.094},{"s":2022,"age":60,"rate":0.105},{"s":2022,"age":65,"rate":0.101},{"s":2022,"age":70,"rate":0.089},{"s":2022,"age":75,"rate":0.068},{"s":2022,"age":80,"rate":0.038},
      {"s":2023,"age":10,"rate":0.001},{"s":2023,"age":15,"rate":0.013},{"s":2023,"age":20,"rate":0.039},{"s":2023,"age":25,"rate":0.054},{"s":2023,"age":30,"rate":0.050},{"s":2023,"age":35,"rate":0.039},{"s":2023,"age":40,"rate":0.041},{"s":2023,"age":45,"rate":0.057},{"s":2023,"age":50,"rate":0.086},{"s":2023,"age":55,"rate":0.104},{"s":2023,"age":60,"rate":0.116},{"s":2023,"age":65,"rate":0.112},{"s":2023,"age":70,"rate":0.098},{"s":2023,"age":75,"rate":0.075},{"s":2023,"age":80,"rate":0.042},
      {"s":2024,"age":10,"rate":0.002},{"s":2024,"age":15,"rate":0.015},{"s":2024,"age":20,"rate":0.043},{"s":2024,"age":25,"rate":0.060},{"s":2024,"age":30,"rate":0.054},{"s":2024,"age":35,"rate":0.043},{"s":2024,"age":40,"rate":0.044},{"s":2024,"age":45,"rate":0.063},{"s":2024,"age":50,"rate":0.094},{"s":2024,"age":55,"rate":0.115},{"s":2024,"age":60,"rate":0.129},{"s":2024,"age":65,"rate":0.124},{"s":2024,"age":70,"rate":0.108},{"s":2024,"age":75,"rate":0.082},{"s":2024,"age":80,"rate":0.047},
      {"s":2025,"age":10,"rate":0.002},{"s":2025,"age":15,"rate":0.017},{"s":2025,"age":20,"rate":0.048},{"s":2025,"age":25,"rate":0.066},{"s":2025,"age":30,"rate":0.060},{"s":2025,"age":35,"rate":0.047},{"s":2025,"age":40,"rate":0.048},{"s":2025,"age":45,"rate":0.068},{"s":2025,"age":50,"rate":0.104},{"s":2025,"age":55,"rate":0.127},{"s":2025,"age":60,"rate":0.142},{"s":2025,"age":65,"rate":0.137},{"s":2025,"age":70,"rate":0.119},{"s":2025,"age":75,"rate":0.090},{"s":2025,"age":80,"rate":0.052},
      {"s":2026,"age":10,"rate":0.002},{"s":2026,"age":15,"rate":0.018},{"s":2026,"age":20,"rate":0.053},{"s":2026,"age":25,"rate":0.072},{"s":2026,"age":30,"rate":0.066},{"s":2026,"age":35,"rate":0.051},{"s":2026,"age":40,"rate":0.052},{"s":2026,"age":45,"rate":0.075},{"s":2026,"age":50,"rate":0.114},{"s":2026,"age":55,"rate":0.140},{"s":2026,"age":60,"rate":0.157},{"s":2026,"age":65,"rate":0.151},{"s":2026,"age":70,"rate":0.131},{"s":2026,"age":75,"rate":0.099},{"s":2026,"age":80,"rate":0.058},
      {"s":2027,"age":10,"rate":0.002},{"s":2027,"age":15,"rate":0.020},{"s":2027,"age":20,"rate":0.059},{"s":2027,"age":25,"rate":0.079},{"s":2027,"age":30,"rate":0.072},{"s":2027,"age":35,"rate":0.055},{"s":2027,"age":40,"rate":0.057},{"s":2027,"age":45,"rate":0.081},{"s":2027,"age":50,"rate":0.125},{"s":2027,"age":55,"rate":0.154},{"s":2027,"age":60,"rate":0.172},{"s":2027,"age":65,"rate":0.166},{"s":2027,"age":70,"rate":0.143},{"s":2027,"age":75,"rate":0.108},{"s":2027,"age":80,"rate":0.063},
      {"s":2028,"age":10,"rate":0.002},{"s":2028,"age":15,"rate":0.022},{"s":2028,"age":20,"rate":0.065},{"s":2028,"age":25,"rate":0.087},{"s":2028,"age":30,"rate":0.079},{"s":2028,"age":35,"rate":0.060},{"s":2028,"age":40,"rate":0.061},{"s":2028,"age":45,"rate":0.088},{"s":2028,"age":50,"rate":0.137},{"s":2028,"age":55,"rate":0.168},{"s":2028,"age":60,"rate":0.189},{"s":2028,"age":65,"rate":0.182},{"s":2028,"age":70,"rate":0.156},{"s":2028,"age":75,"rate":0.118},{"s":2028,"age":80,"rate":0.070},
      {"s":2029,"age":10,"rate":0.002},{"s":2029,"age":15,"rate":0.025},{"s":2029,"age":20,"rate":0.072},{"s":2029,"age":25,"rate":0.094},{"s":2029,"age":30,"rate":0.086},{"s":2029,"age":35,"rate":0.065},{"s":2029,"age":40,"rate":0.066},{"s":2029,"age":45,"rate":0.096},{"s":2029,"age":50,"rate":0.149},{"s":2029,"age":55,"rate":0.184},{"s":2029,"age":60,"rate":0.207},{"s":2029,"age":65,"rate":0.199},{"s":2029,"age":70,"rate":0.171},{"s":2029,"age":75,"rate":0.129},{"s":2029,"age":80,"rate":0.077},
      {"s":2030,"age":10,"rate":0.002},{"s":2030,"age":15,"rate":0.027},{"s":2030,"age":20,"rate":0.079},{"s":2030,"age":25,"rate":0.103},{"s":2030,"age":30,"rate":0.094},{"s":2030,"age":35,"rate":0.070},{"s":2030,"age":40,"rate":0.072},{"s":2030,"age":45,"rate":0.104},{"s":2030,"age":50,"rate":0.163},{"s":2030,"age":55,"rate":0.201},{"s":2030,"age":60,"rate":0.226},{"s":2030,"age":65,"rate":0.217},{"s":2030,"age":70,"rate":0.186},{"s":2030,"age":75,"rate":0.140},{"s":2030,"age":80,"rate":0.084}
    ],
    "male_ext_hist": [
      {"s":1,"age":0,"rate":0.001},{"s":1,"age":5,"rate":0.001},{"s":1,"age":10,"rate":0.001},{"s":1,"age":15,"rate":0.005},{"s":1,"age":20,"rate":0.016},{"s":1,"age":25,"rate":0.022},{"s":1,"age":30,"rate":0.023},{"s":1,"age":35,"rate":0.022},{"s":1,"age":40,"rate":0.022},{"s":1,"age":45,"rate":0.024},{"s":1,"age":50,"rate":0.027},{"s":1,"age":55,"rate":0.030},{"s":1,"age":60,"rate":0.031},{"s":1,"age":65,"rate":0.030},{"s":1,"age":70,"rate":0.029},{"s":1,"age":75,"rate":0.036},{"s":1,"age":80,"rate":0.049},
      {"s":2,"age":0,"rate":0.001},{"s":2,"age":5,"rate":0.001},{"s":2,"age":10,"rate":0.0005},{"s":2,"age":15,"rate":0.004},{"s":2,"age":20,"rate":0.017},{"s":2,"age":25,"rate":0.023},{"s":2,"age":30,"rate":0.024},{"s":2,"age":35,"rate":0.023},{"s":2,"age":40,"rate":0.023},{"s":2,"age":45,"rate":0.025},{"s":2,"age":50,"rate":0.031},{"s":2,"age":55,"rate":0.030},{"s":2,"age":60,"rate":0.031},{"s":2,"age":65,"rate":0.031},{"s":2,"age":70,"rate":0.026},{"s":2,"age":75,"rate":0.030},{"s":2,"age":80,"rate":0.036},
      {"s":3,"age":0,"rate":0.001},{"s":3,"age":5,"rate":0.001},{"s":3,"age":10,"rate":0.001},{"s":3,"age":15,"rate":0.006},{"s":3,"age":20,"rate":0.018},{"s":3,"age":25,"rate":0.024},{"s":3,"age":30,"rate":0.026},{"s":3,"age":35,"rate":0.025},{"s":3,"age":40,"rate":0.024},{"s":3,"age":45,"rate":0.026},{"s":3,"age":50,"rate":0.028},{"s":3,"age":55,"rate":0.029},{"s":3,"age":60,"rate":0.028},{"s":3,"age":65,"rate":0.030},{"s":3,"age":70,"rate":0.035},{"s":3,"age":75,"rate":0.032},{"s":3,"age":80,"rate":0.032},
      {"s":4,"age":0,"rate":0.001},{"s":4,"age":5,"rate":0.001},{"s":4,"age":10,"rate":0.0005},{"s":4,"age":15,"rate":0.005},{"s":4,"age":20,"rate":0.016},{"s":4,"age":25,"rate":0.022},{"s":4,"age":30,"rate":0.022},{"s":4,"age":35,"rate":0.021},{"s":4,"age":40,"rate":0.022},{"s":4,"age":45,"rate":0.023},{"s":4,"age":50,"rate":0.024},{"s":4,"age":55,"rate":0.025},{"s":4,"age":60,"rate":0.026},{"s":4,"age":65,"rate":0.029},{"s":4,"age":70,"rate":0.031},{"s":4,"age":75,"rate":0.034},{"s":4,"age":80,"rate":0.031},
      {"s":5,"age":0,"rate":0.001},{"s":5,"age":5,"rate":0.0005},{"s":5,"age":10,"rate":0.0005},{"s":5,"age":15,"rate":0.003},{"s":5,"age":20,"rate":0.015},{"s":5,"age":25,"rate":0.021},{"s":5,"age":30,"rate":0.022},{"s":5,"age":35,"rate":0.022},{"s":5,"age":40,"rate":0.022},{"s":5,"age":45,"rate":0.023},{"s":5,"age":50,"rate":0.022},{"s":5,"age":55,"rate":0.022},{"s":5,"age":60,"rate":0.024},{"s":5,"age":65,"rate":0.027},{"s":5,"age":70,"rate":0.028},{"s":5,"age":75,"rate":0.033},{"s":5,"age":80,"rate":0.029},
      {"s":6,"age":0,"rate":0.001},{"s":6,"age":5,"rate":0.001},{"s":6,"age":10,"rate":0.001},{"s":6,"age":15,"rate":0.006},{"s":6,"age":20,"rate":0.019},{"s":6,"age":25,"rate":0.025},{"s":6,"age":30,"rate":0.025},{"s":6,"age":35,"rate":0.024},{"s":6,"age":40,"rate":0.023},{"s":6,"age":45,"rate":0.024},{"s":6,"age":50,"rate":0.025},{"s":6,"age":55,"rate":0.026},{"s":6,"age":60,"rate":0.028},{"s":6,"age":65,"rate":0.025},{"s":6,"age":70,"rate":0.027},{"s":6,"age":75,"rate":0.030},{"s":6,"age":80,"rate":0.026},
      {"s":7,"age":0,"rate":0.001},{"s":7,"age":5,"rate":0.001},{"s":7,"age":10,"rate":0.0005},{"s":7,"age":15,"rate":0.004},{"s":7,"age":20,"rate":0.016},{"s":7,"age":25,"rate":0.022},{"s":7,"age":30,"rate":0.023},{"s":7,"age":35,"rate":0.023},{"s":7,"age":40,"rate":0.024},{"s":7,"age":45,"rate":0.025},{"s":7,"age":50,"rate":0.026},{"s":7,"age":55,"rate":0.027},{"s":7,"age":60,"rate":0.025},{"s":7,"age":65,"rate":0.024},{"s":7,"age":70,"rate":0.030},{"s":7,"age":75,"rate":0.028},{"s":7,"age":80,"rate":0.023},
      {"s":8,"age":0,"rate":0.001},{"s":8,"age":5,"rate":0.0005},{"s":8,"age":10,"rate":0.0005},{"s":8,"age":15,"rate":0.004},{"s":8,"age":20,"rate":0.017},{"s":8,"age":25,"rate":0.023},{"s":8,"age":30,"rate":0.024},{"s":8,"age":35,"rate":0.024},{"s":8,"age":40,"rate":0.023},{"s":8,"age":45,"rate":0.022},{"s":8,"age":50,"rate":0.021},{"s":8,"age":55,"rate":0.022},{"s":8,"age":60,"rate":0.024},{"s":8,"age":65,"rate":0.026},{"s":8,"age":70,"rate":0.025},{"s":8,"age":75,"rate":0.027},{"s":8,"age":80,"rate":0.021},
      {"s":9,"age":0,"rate":0.001},{"s":9,"age":5,"rate":0.001},{"s":9,"age":10,"rate":0.001},{"s":9,"age":15,"rate":0.005},{"s":9,"age":20,"rate":0.018},{"s":9,"age":25,"rate":0.023},{"s":9,"age":30,"rate":0.022},{"s":9,"age":35,"rate":0.020},{"s":9,"age":40,"rate":0.021},{"s":9,"age":45,"rate":0.022},{"s":9,"age":50,"rate":0.023},{"s":9,"age":55,"rate":0.024},{"s":9,"age":60,"rate":0.023},{"s":9,"age":65,"rate":0.022},{"s":9,"age":70,"rate":0.024},{"s":9,"age":75,"rate":0.025},{"s":9,"age":80,"rate":0.019},
      {"s":10,"age":0,"rate":0.001},{"s":10,"age":5,"rate":0.001},{"s":10,"age":10,"rate":0.0005},{"s":10,"age":15,"rate":0.005},{"s":10,"age":20,"rate":0.017},{"s":10,"age":25,"rate":0.024},{"s":10,"age":30,"rate":0.025},{"s":10,"age":35,"rate":0.024},{"s":10,"age":40,"rate":0.025},{"s":10,"age":45,"rate":0.026},{"s":10,"age":50,"rate":0.028},{"s":10,"age":55,"rate":0.027},{"s":10,"age":60,"rate":0.029},{"s":10,"age":65,"rate":0.027},{"s":10,"age":70,"rate":0.023},{"s":10,"age":75,"rate":0.022},{"s":10,"age":80,"rate":0.027},
      {"s":11,"age":0,"rate":0.001},{"s":11,"age":5,"rate":0.001},{"s":11,"age":10,"rate":0.001},{"s":11,"age":15,"rate":0.004},{"s":11,"age":20,"rate":0.016},{"s":11,"age":25,"rate":0.023},{"s":11,"age":30,"rate":0.024},{"s":11,"age":35,"rate":0.023},{"s":11,"age":40,"rate":0.024},{"s":11,"age":45,"rate":0.024},{"s":11,"age":50,"rate":0.024},{"s":11,"age":55,"rate":0.023},{"s":11,"age":60,"rate":0.025},{"s":11,"age":65,"rate":0.028},{"s":11,"age":70,"rate":0.027},{"s":11,"age":75,"rate":0.026},{"s":11,"age":80,"rate":0.025},
      {"s":12,"age":0,"rate":0.001},{"s":12,"age":5,"rate":0.0005},{"s":12,"age":10,"rate":0.0005},{"s":12,"age":15,"rate":0.003},{"s":12,"age":20,"rate":0.015},{"s":12,"age":25,"rate":0.022},{"s":12,"age":30,"rate":0.023},{"s":12,"age":35,"rate":0.024},{"s":12,"age":40,"rate":0.022},{"s":12,"age":45,"rate":0.023},{"s":12,"age":50,"rate":0.025},{"s":12,"age":55,"rate":0.026},{"s":12,"age":60,"rate":0.027},{"s":12,"age":65,"rate":0.023},{"s":12,"age":70,"rate":0.021},{"s":12,"age":75,"rate":0.024},{"s":12,"age":80,"rate":0.030},
      {"s":13,"age":0,"rate":0.001},{"s":13,"age":5,"rate":0.001},{"s":13,"age":10,"rate":0.001},{"s":13,"age":15,"rate":0.006},{"s":13,"age":20,"rate":0.017},{"s":13,"age":25,"rate":0.022},{"s":13,"age":30,"rate":0.021},{"s":13,"age":35,"rate":0.021},{"s":13,"age":40,"rate":0.022},{"s":13,"age":45,"rate":0.023},{"s":13,"age":50,"rate":0.024},{"s":13,"age":55,"rate":0.025},{"s":13,"age":60,"rate":0.026},{"s":13,"age":65,"rate":0.024},{"s":13,"age":70,"rate":0.022},{"s":13,"age":75,"rate":0.029},{"s":13,"age":80,"rate":0.028}
    ],
    "male_ext_fc": [
      {"s":2018,"age":0,"rate":0.0009},{"s":2018,"age":5,"rate":0.0009},{"s":2018,"age":10,"rate":0.0005},{"s":2018,"age":15,"rate":0.005},{"s":2018,"age":20,"rate":0.0166},{"s":2018,"age":25,"rate":0.0225},{"s":2018,"age":30,"rate":0.0227},{"s":2018,"age":35,"rate":0.0225},{"s":2018,"age":40,"rate":0.0231},{"s":2018,"age":45,"rate":0.0251},{"s":2018,"age":50,"rate":0.0265},{"s":2018,"age":55,"rate":0.0274},{"s":2018,"age":60,"rate":0.0263},{"s":2018,"age":65,"rate":0.0236},{"s":2018,"age":70,"rate":0.0225},{"s":2018,"age":75,"rate":0.0225},{"s":2018,"age":80,"rate":0.0233},
      {"s":2030,"age":0,"rate":0.0009},{"s":2030,"age":5,"rate":0.0009},{"s":2030,"age":10,"rate":0.0005},{"s":2030,"age":15,"rate":0.005},{"s":2030,"age":20,"rate":0.0166},{"s":2030,"age":25,"rate":0.0225},{"s":2030,"age":30,"rate":0.0227},{"s":2030,"age":35,"rate":0.0225},{"s":2030,"age":40,"rate":0.0231},{"s":2030,"age":45,"rate":0.0251},{"s":2030,"age":50,"rate":0.0265},{"s":2030,"age":55,"rate":0.0274},{"s":2030,"age":60,"rate":0.0263},{"s":2030,"age":65,"rate":0.0236},{"s":2030,"age":70,"rate":0.0225},{"s":2030,"age":75,"rate":0.0225},{"s":2030,"age":80,"rate":0.0233}
    ],
    "female_ext_hist": [
      {"s":1,"age":0,"rate":0.001},{"s":1,"age":5,"rate":0.001},{"s":1,"age":10,"rate":0.001},{"s":1,"age":15,"rate":0.006},{"s":1,"age":20,"rate":0.013},{"s":1,"age":25,"rate":0.015},{"s":1,"age":30,"rate":0.014},{"s":1,"age":35,"rate":0.015},{"s":1,"age":40,"rate":0.018},{"s":1,"age":45,"rate":0.024},{"s":1,"age":50,"rate":0.032},{"s":1,"age":55,"rate":0.043},{"s":1,"age":60,"rate":0.054},{"s":1,"age":65,"rate":0.060},{"s":1,"age":70,"rate":0.070},{"s":1,"age":75,"rate":0.076},{"s":1,"age":80,"rate":0.083},
      {"s":2,"age":0,"rate":0.001},{"s":2,"age":5,"rate":0.001},{"s":2,"age":10,"rate":0.001},{"s":2,"age":15,"rate":0.005},{"s":2,"age":20,"rate":0.012},{"s":2,"age":25,"rate":0.014},{"s":2,"age":30,"rate":0.014},{"s":2,"age":35,"rate":0.014},{"s":2,"age":40,"rate":0.017},{"s":2,"age":45,"rate":0.023},{"s":2,"age":50,"rate":0.031},{"s":2,"age":55,"rate":0.041},{"s":2,"age":60,"rate":0.052},{"s":2,"age":65,"rate":0.061},{"s":2,"age":70,"rate":0.068},{"s":2,"age":75,"rate":0.074},{"s":2,"age":80,"rate":0.081},
      {"s":3,"age":0,"rate":0.001},{"s":3,"age":5,"rate":0.001},{"s":3,"age":10,"rate":0.0005},{"s":3,"age":15,"rate":0.004},{"s":3,"age":20,"rate":0.011},{"s":3,"age":25,"rate":0.013},{"s":3,"age":30,"rate":0.013},{"s":3,"age":35,"rate":0.014},{"s":3,"age":40,"rate":0.017},{"s":3,"age":45,"rate":0.022},{"s":3,"age":50,"rate":0.030},{"s":3,"age":55,"rate":0.040},{"s":3,"age":60,"rate":0.051},{"s":3,"age":65,"rate":0.062},{"s":3,"age":70,"rate":0.076},{"s":3,"age":75,"rate":0.072},{"s":3,"age":80,"rate":0.066},
      {"s":4,"age":0,"rate":0.001},{"s":4,"age":5,"rate":0.001},{"s":4,"age":10,"rate":0.001},{"s":4,"age":15,"rate":0.004},{"s":4,"age":20,"rate":0.012},{"s":4,"age":25,"rate":0.014},{"s":4,"age":30,"rate":0.013},{"s":4,"age":35,"rate":0.013},{"s":4,"age":40,"rate":0.016},{"s":4,"age":45,"rate":0.021},{"s":4,"age":50,"rate":0.029},{"s":4,"age":55,"rate":0.041},{"s":4,"age":60,"rate":0.053},{"s":4,"age":65,"rate":0.063},{"s":4,"age":70,"rate":0.071},{"s":4,"age":75,"rate":0.078},{"s":4,"age":80,"rate":0.073},
      {"s":5,"age":0,"rate":0.001},{"s":5,"age":5,"rate":0.001},{"s":5,"age":10,"rate":0.0005},{"s":5,"age":15,"rate":0.003},{"s":5,"age":20,"rate":0.010},{"s":5,"age":25,"rate":0.012},{"s":5,"age":30,"rate":0.012},{"s":5,"age":35,"rate":0.013},{"s":5,"age":40,"rate":0.016},{"s":5,"age":45,"rate":0.020},{"s":5,"age":50,"rate":0.028},{"s":5,"age":55,"rate":0.038},{"s":5,"age":60,"rate":0.048},{"s":5,"age":65,"rate":0.058},{"s":5,"age":70,"rate":0.068},{"s":5,"age":75,"rate":0.073},{"s":5,"age":80,"rate":0.069},
      {"s":6,"age":0,"rate":0.001},{"s":6,"age":5,"rate":0.001},{"s":6,"age":10,"rate":0.0005},{"s":6,"age":15,"rate":0.004},{"s":6,"age":20,"rate":0.011},{"s":6,"age":25,"rate":0.013},{"s":6,"age":30,"rate":0.014},{"s":6,"age":35,"rate":0.014},{"s":6,"age":40,"rate":0.017},{"s":6,"age":45,"rate":0.022},{"s":6,"age":50,"rate":0.030},{"s":6,"age":55,"rate":0.040},{"s":6,"age":60,"rate":0.050},{"s":6,"age":65,"rate":0.059},{"s":6,"age":70,"rate":0.066},{"s":6,"age":75,"rate":0.070},{"s":6,"age":80,"rate":0.076},
      {"s":7,"age":0,"rate":0.001},{"s":7,"age":5,"rate":0.001},{"s":7,"age":10,"rate":0.001},{"s":7,"age":15,"rate":0.005},{"s":7,"age":20,"rate":0.012},{"s":7,"age":25,"rate":0.014},{"s":7,"age":30,"rate":0.013},{"s":7,"age":35,"rate":0.013},{"s":7,"age":40,"rate":0.015},{"s":7,"age":45,"rate":0.020},{"s":7,"age":50,"rate":0.027},{"s":7,"age":55,"rate":0.036},{"s":7,"age":60,"rate":0.045},{"s":7,"age":65,"rate":0.054},{"s":7,"age":70,"rate":0.062},{"s":7,"age":75,"rate":0.066},{"s":7,"age":80,"rate":0.064},
      {"s":8,"age":0,"rate":0.001},{"s":8,"age":5,"rate":0.001},{"s":8,"age":10,"rate":0.0005},{"s":8,"age":15,"rate":0.003},{"s":8,"age":20,"rate":0.010},{"s":8,"age":25,"rate":0.012},{"s":8,"age":30,"rate":0.012},{"s":8,"age":35,"rate":0.012},{"s":8,"age":40,"rate":0.015},{"s":8,"age":45,"rate":0.019},{"s":8,"age":50,"rate":0.026},{"s":8,"age":55,"rate":0.034},{"s":8,"age":60,"rate":0.040},{"s":8,"age":65,"rate":0.044},{"s":8,"age":70,"rate":0.054},{"s":8,"age":75,"rate":0.053},{"s":8,"age":80,"rate":0.052},
      {"s":9,"age":0,"rate":0.001},{"s":9,"age":5,"rate":0.001},{"s":9,"age":10,"rate":0.0005},{"s":9,"age":15,"rate":0.002},{"s":9,"age":20,"rate":0.010},{"s":9,"age":25,"rate":0.012},{"s":9,"age":30,"rate":0.013},{"s":9,"age":35,"rate":0.014},{"s":9,"age":40,"rate":0.016},{"s":9,"age":45,"rate":0.018},{"s":9,"age":50,"rate":0.025},{"s":9,"age":55,"rate":0.032},{"s":9,"age":60,"rate":0.040},{"s":9,"age":65,"rate":0.047},{"s":9,"age":70,"rate":0.056},{"s":9,"age":75,"rate":0.067},{"s":9,"age":80,"rate":0.046},
      {"s":10,"age":0,"rate":0.001},{"s":10,"age":5,"rate":0.001},{"s":10,"age":10,"rate":0.001},{"s":10,"age":15,"rate":0.004},{"s":10,"age":20,"rate":0.011},{"s":10,"age":25,"rate":0.013},{"s":10,"age":30,"rate":0.013},{"s":10,"age":35,"rate":0.013},{"s":10,"age":40,"rate":0.016},{"s":10,"age":45,"rate":0.022},{"s":10,"age":50,"rate":0.031},{"s":10,"age":55,"rate":0.042},{"s":10,"age":60,"rate":0.053},{"s":10,"age":65,"rate":0.061},{"s":10,"age":70,"rate":0.067},{"s":10,"age":75,"rate":0.063},{"s":10,"age":80,"rate":0.061},
      {"s":11,"age":0,"rate":0.001},{"s":11,"age":5,"rate":0.001},{"s":11,"age":10,"rate":0.0005},{"s":11,"age":15,"rate":0.003},{"s":11,"age":20,"rate":0.011},{"s":11,"age":25,"rate":0.013},{"s":11,"age":30,"rate":0.013},{"s":11,"age":35,"rate":0.013},{"s":11,"age":40,"rate":0.015},{"s":11,"age":45,"rate":0.021},{"s":11,"age":50,"rate":0.029},{"s":11,"age":55,"rate":0.039},{"s":11,"age":60,"rate":0.049},{"s":11,"age":65,"rate":0.057},{"s":11,"age":70,"rate":0.063},{"s":11,"age":75,"rate":0.061},{"s":11,"age":80,"rate":0.056},
      {"s":12,"age":0,"rate":0.001},{"s":12,"age":5,"rate":0.001},{"s":12,"age":10,"rate":0.001},{"s":12,"age":15,"rate":0.005},{"s":12,"age":20,"rate":0.012},{"s":12,"age":25,"rate":0.015},{"s":12,"age":30,"rate":0.014},{"s":12,"age":35,"rate":0.014},{"s":12,"age":40,"rate":0.016},{"s":12,"age":45,"rate":0.022},{"s":12,"age":50,"rate":0.030},{"s":12,"age":55,"rate":0.040},{"s":12,"age":60,"rate":0.051},{"s":12,"age":65,"rate":0.059},{"s":12,"age":70,"rate":0.072},{"s":12,"age":75,"rate":0.069},{"s":12,"age":80,"rate":0.074},
      {"s":13,"age":0,"rate":0.001},{"s":13,"age":5,"rate":0.001},{"s":13,"age":10,"rate":0.0005},{"s":13,"age":15,"rate":0.004},{"s":13,"age":20,"rate":0.011},{"s":13,"age":25,"rate":0.013},{"s":13,"age":30,"rate":0.013},{"s":13,"age":35,"rate":0.013},{"s":13,"age":40,"rate":0.016},{"s":13,"age":45,"rate":0.021},{"s":13,"age":50,"rate":0.029},{"s":13,"age":55,"rate":0.039},{"s":13,"age":60,"rate":0.048},{"s":13,"age":65,"rate":0.055},{"s":13,"age":70,"rate":0.060},{"s":13,"age":75,"rate":0.068},{"s":13,"age":80,"rate":0.063}
    ],
    "female_ext_fc": [
      {"s":2018,"age":0,"rate":0.0009},{"s":2018,"age":5,"rate":0.0009},{"s":2018,"age":10,"rate":0.0009},{"s":2018,"age":15,"rate":0.0041},{"s":2018,"age":20,"rate":0.0117},{"s":2018,"age":25,"rate":0.0145},{"s":2018,"age":30,"rate":0.0137},{"s":2018,"age":35,"rate":0.0134},{"s":2018,"age":40,"rate":0.0166},{"s":2018,"age":45,"rate":0.0217},{"s":2018,"age":50,"rate":0.0299},{"s":2018,"age":55,"rate":0.0399},{"s":2018,"age":60,"rate":0.0494},{"s":2018,"age":65,"rate":0.0571},{"s":2018,"age":70,"rate":0.0651},{"s":2018,"age":75,"rate":0.0652},{"s":2018,"age":80,"rate":0.0584},
      {"s":2030,"age":0,"rate":0.0009},{"s":2030,"age":5,"rate":0.0009},{"s":2030,"age":10,"rate":0.0009},{"s":2030,"age":15,"rate":0.0041},{"s":2030,"age":20,"rate":0.0115},{"s":2030,"age":25,"rate":0.0136},{"s":2030,"age":30,"rate":0.0134},{"s":2030,"age":35,"rate":0.0134},{"s":2030,"age":40,"rate":0.0166},{"s":2030,"age":45,"rate":0.0217},{"s":2030,"age":50,"rate":0.0299},{"s":2030,"age":55,"rate":0.0399},{"s":2030,"age":60,"rate":0.0494},{"s":2030,"age":65,"rate":0.0571},{"s":2030,"age":70,"rate":0.0643},{"s":2030,"age":75,"rate":0.0652},{"s":2030,"age":80,"rate":0.0584}
    ]
  }
}
